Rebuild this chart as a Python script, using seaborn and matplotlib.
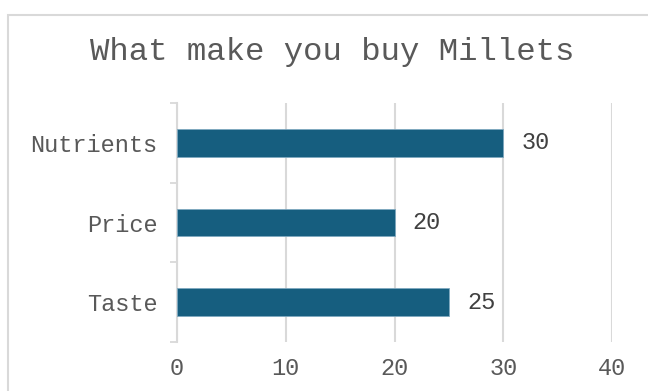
import matplotlib
matplotlib.use("Agg")
import matplotlib.pyplot as plt
import seaborn as sns
import pandas as pd
from matplotlib.patches import Rectangle

categories = ["Nutrients", "Price", "Taste"]
values = [30, 20, 25]
x_ticks = [0, 10, 20, 30, 40]
title = "What make you buy Millets"

df = pd.DataFrame({"reason": categories, "count": values})

sns.set_style("white")
plt.rcParams["font.family"] = ["Liberation Mono", "DejaVu Sans Mono"]

fig = plt.figure(figsize=(6.48, 3.91), dpi=100)
ax = fig.add_axes([177/648, 1-342/391, (612-177)/648, (342-103)/391])

sns.barplot(data=df, y="reason", x="count", orient="h", color="#165E7F", saturation=1,
            width=0.35, edgecolor="#7fa9c0", linewidth=0.6, ax=ax, zorder=3)

ax.set_xlim(0, 40)
ax.set_ylim(2.5, -0.5)
ax.set_xticks(x_ticks)
ax.set_xticklabels([str(t) for t in x_ticks], fontsize=17, color="#595959")
ax.tick_params(axis="x", length=0, pad=11)
ax.tick_params(axis="y", which="major", length=0, left=False, pad=14, labelsize=17, labelcolor="#595959")
ax.set_yticks([-0.5, 0.5, 1.5, 2.5], minor=True)
ax.tick_params(axis="y", which="minor", left=True, length=5, width=1.3, color="#d9d9d9")
ax.set_xlabel("")
ax.set_ylabel("")
ax.xaxis.grid(True, color="#d9d9d9", linewidth=1.5, zorder=0)
ax.set_axisbelow(True)
for s in ["top", "right", "bottom"]:
    ax.spines[s].set_visible(False)
ax.spines["left"].set_color("#d9d9d9")
ax.spines["left"].set_linewidth(1.5)

for c in ax.containers:
    ax.bar_label(c, labels=[str(v) for v in values], padding=13, fontsize=17, color="#404040")

fig.text((92+572)/2/648, 1-52/391, title, ha="center", va="center", fontsize=23.3, color="#595959")

fig.patches.append(Rectangle((8/648, -0.1), 1.2, 1 - 15/391 + 0.1, transform=fig.transFigure,
                             fill=False, edgecolor="#d9d9d9", linewidth=1.5, figure=fig))

fig.savefig("out.png", dpi=100)
